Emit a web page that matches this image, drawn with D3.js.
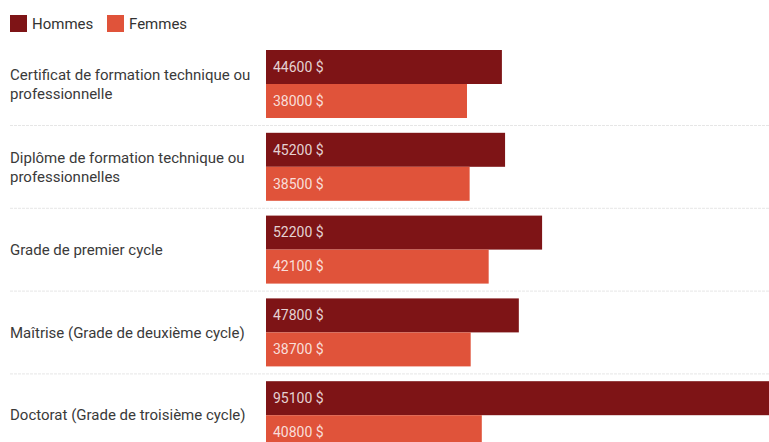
<!DOCTYPE html>
<html>
<head>
<meta charset="utf-8">
<script src="https://cdn.jsdelivr.net/npm/d3@7"></script>
<style>
  body { margin: 0; background: #fff; }
  svg { display: block; font-family: Roboto, "Noto Sans", sans-serif; }
</style>
</head>
<body>
<svg id="chart" width="769" height="442"></svg>
<script>
var categories = [
  ["Certificat de formation technique ou", "professionnelle"],
  ["Diplôme de formation technique ou", "professionnelles"],
  ["Grade de premier cycle"],
  ["Maîtrise (Grade de deuxième cycle)"],
  ["Doctorat (Grade de troisième cycle)"]
];
var series = ["Hommes", "Femmes"];
var hommes = [44600, 45200, 52200, 47800, 95100];
var femmes = [38000, 38500, 42100, 38700, 40800];
var colors = ["#7e1416", "#e0533a"];

var svg = d3.select("#chart"),
    width = +svg.attr("width");

var keys = categories.map(function(c) { return c.join(" "); });

var x = d3.scaleLinear()
  .domain([0, d3.max(hommes)])
  .range([266, width]);

var y0 = d3.scaleBand()
  .domain(keys)
  .range([50, 449.2])
  .paddingInner(0.1787)
  .paddingOuter(0);

var y1 = d3.scaleBand()
  .domain(series)
  .range([0, y0.bandwidth()]);

var color = d3.scaleOrdinal().domain(series).range(colors);

// legend
var legend = svg.append("g").selectAll("g")
  .data(series)
  .enter().append("g")
    .attr("transform", function(d, i) { return "translate(" + (10 + i * 97) + ",15)"; });
legend.append("rect")
  .attr("width", 17).attr("height", 17)
  .attr("fill", function(d) { return color(d); });
legend.append("text")
  .attr("x", 22).attr("y", 8.5)
  .attr("dy", "0.35em")
  .attr("font-size", 15).attr("fill", "#333")
  .text(function(d) { return d; });

// separators
svg.append("g").selectAll("line")
  .data(keys)
  .enter().append("line")
    .attr("x1", 10).attr("x2", width)
    .attr("y1", function(d) { return y0(d) + y0.bandwidth() + 7.5; })
    .attr("y2", function(d) { return y0(d) + y0.bandwidth() + 7.5; })
    .attr("stroke", "#e6e6e6")
    .attr("stroke-dasharray", "3,1");

var rows = keys.map(function(k, i) {
  return { key: k, lines: categories[i], values: [
    { name: "Hommes", value: hommes[i] },
    { name: "Femmes", value: femmes[i] }
  ] };
});

var group = svg.append("g").selectAll("g")
  .data(rows)
  .enter().append("g")
    .attr("transform", function(d) { return "translate(0," + y0(d.key) + ")"; });

// category labels
group.append("text")
  .attr("font-size", 15)
  .attr("fill", "#3a3a3a")
  .each(function(d) {
    var t = d3.select(this), n = d.lines.length, mid = y0.bandwidth() / 2;
    d.lines.forEach(function(line, j) {
      t.append("tspan")
        .attr("x", 10)
        .attr("y", mid + (j - (n - 1) / 2) * 19)
        .attr("dy", "0.35em")
        .text(line);
    });
  });

var bar = group.selectAll("g")
  .data(function(d) { return d.values; })
  .enter().append("g");

bar.append("rect")
  .attr("x", x(0))
  .attr("y", function(d) { return y1(d.name); })
  .attr("width", function(d) { return x(d.value) - x(0); })
  .attr("height", y1.bandwidth())
  .attr("fill", function(d) { return color(d.name); });

bar.append("text")
  .attr("x", x(0) + 7)
  .attr("y", function(d) { return y1(d.name) + y1.bandwidth() / 2; })
  .attr("dy", "0.35em")
  .attr("font-size", 14)
  .attr("fill", "rgba(255,255,255,0.82)")
  .text(function(d) { return d.value + " $"; });
</script>
</body>
</html>
